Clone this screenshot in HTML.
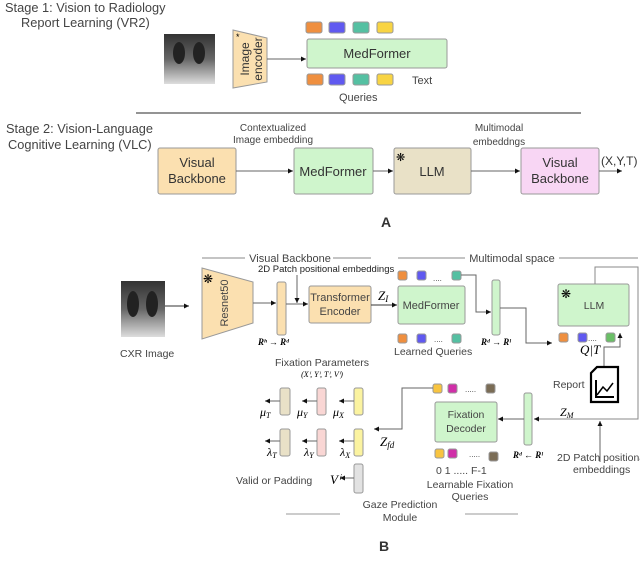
<!DOCTYPE html>
<html><head><meta charset="utf-8"><style>
body{margin:0;background:#fff}
svg{display:block;font-family:"Liberation Sans",sans-serif}
.s{font-family:"Liberation Serif",serif;font-style:italic}
</style></head><body>
<svg width="640" height="563" viewBox="0 0 640 563" xmlns="http://www.w3.org/2000/svg">
<defs>
<marker id="a" markerWidth="6" markerHeight="6" refX="5" refY="3" orient="auto"><path d="M0,0.5 L5,3 L0,5.5z" fill="#111"/></marker>
<linearGradient id="x" x1="0" y1="0" x2="0" y2="1"><stop offset="0" stop-color="#333"/><stop offset="0.5" stop-color="#666"/><stop offset="1" stop-color="#ddd"/></linearGradient>
</defs>
<g font-size="12.8" fill="#444">
<text x="5" y="12">Stage 1: Vision to Radiology</text>
<text x="21" y="27">Report Learning (VR2)</text>
<text x="6" y="133">Stage 2: Vision-Language</text>
<text x="8" y="149">Cognitive Learning (VLC)</text>
</g>
<!-- Stage 1 -->
<rect x="164" y="34" width="51" height="50" fill="url(#x)"/>
<ellipse cx="179" cy="53" rx="6" ry="11" fill="#222"/><ellipse cx="199" cy="53" rx="6" ry="11" fill="#222"/>
<path d="M233,30 L267,38 L267,82 L233,88z" fill="#fbe0b0" stroke="#999"/>
<text transform="translate(245,59) rotate(-90)" text-anchor="middle" font-size="12" fill="#333" dy="4">Image</text>
<text transform="translate(258,59) rotate(-90)" text-anchor="middle" font-size="12" fill="#333" dy="4">encoder</text>
<text x="236" y="40" font-size="9">*</text>
<line x1="267" y1="59" x2="306" y2="59" stroke="#666" marker-end="url(#a)"/>
<rect x="307" y="39" width="140" height="29" rx="2" fill="#cff5cc" stroke="#999"/>
<text x="377" y="58" text-anchor="middle" font-size="13" fill="#333">MedFormer</text>
<g stroke="#999"><rect x="306" y="22" width="16" height="11" rx="2" fill="#ef8f3f"/><rect x="329" y="22" width="16" height="11" rx="2" fill="#6059f0"/><rect x="353" y="22" width="16" height="11" rx="2" fill="#55c0a2"/><rect x="377" y="22" width="16" height="11" rx="2" fill="#f8d443"/>
<rect x="307" y="74" width="16" height="11" rx="2" fill="#ef8f3f"/><rect x="329" y="74" width="16" height="11" rx="2" fill="#6059f0"/><rect x="353" y="74" width="16" height="11" rx="2" fill="#55c0a2"/><rect x="377" y="74" width="16" height="11" rx="2" fill="#f8d443"/></g>
<text x="412" y="84" font-size="11" fill="#444">Text</text>
<text x="339" y="101" font-size="11" fill="#444">Queries</text>
<line x1="136" y1="113" x2="581" y2="113" stroke="#555" stroke-width="1.2"/>
<!-- Stage 2 -->
<g font-size="10" fill="#444" text-anchor="middle"><text x="273" y="131">Contextualized</text><text x="273" y="143">Image embedding</text><text x="499" y="131">Multimodal</text><text x="499" y="145">embeddngs</text></g>
<rect x="158" y="148" width="78" height="46" rx="2" fill="#fbe0b0" stroke="#999"/>
<text x="197" y="167" text-anchor="middle" font-size="13" fill="#333">Visual</text><text x="197" y="183" text-anchor="middle" font-size="13" fill="#333">Backbone</text>
<rect x="294" y="148" width="79" height="46" rx="2" fill="#cff5cc" stroke="#999"/>
<text x="333" y="176" text-anchor="middle" font-size="13" fill="#333">MedFormer</text>
<rect x="394" y="148" width="77" height="46" rx="2" fill="#e9e1c7" stroke="#999"/>
<text x="432" y="176" text-anchor="middle" font-size="13" fill="#333">LLM</text>
<text x="396" y="161" font-size="11">❋</text>
<rect x="521" y="148" width="78" height="46" rx="2" fill="#f8d6f4" stroke="#999"/>
<text x="560" y="167" text-anchor="middle" font-size="13" fill="#333">Visual</text><text x="560" y="183" text-anchor="middle" font-size="13" fill="#333">Backbone</text>
<g stroke="#666" marker-end="url(#a)"><line x1="236" y1="171" x2="293" y2="171"/><line x1="373" y1="171" x2="393" y2="171"/><line x1="471" y1="171" x2="520" y2="171"/><line x1="599" y1="171" x2="622" y2="171"/></g>
<text x="601" y="165" font-size="12" fill="#333">(X,Y,T)</text>
<text x="381" y="227" font-size="14" font-weight="bold" fill="#333">A</text>
<!-- Part B -->
<g stroke="#888"><line x1="202" y1="258" x2="245" y2="258"/><line x1="333" y1="258" x2="371" y2="258"/><line x1="398" y1="258" x2="465" y2="258"/><line x1="559" y1="258" x2="638" y2="258"/></g>
<text x="290" y="262" text-anchor="middle" font-size="11" fill="#444">Visual Backbone</text>
<text x="512" y="262" text-anchor="middle" font-size="11" fill="#444">Multimodal space</text>
<rect x="121" y="281" width="44" height="56" fill="url(#x)"/>
<ellipse cx="133" cy="304" rx="6" ry="13" fill="#222"/><ellipse cx="152" cy="304" rx="6" ry="13" fill="#222"/>
<text x="120" y="357" font-size="10.5" fill="#444">CXR Image</text>
<line x1="165" y1="306" x2="189" y2="306" stroke="#333" marker-end="url(#a)"/>
<path d="M202,268 L253,282 L253,323 L202,339z" fill="#fbe0b0" stroke="#999"/>
<text transform="translate(228,303) rotate(-90)" text-anchor="middle" font-size="11" fill="#444">Resnet50</text>
<text x="203" y="283" font-size="12">❋</text>
<line x1="253" y1="303" x2="276" y2="303" stroke="#666" marker-end="url(#a)"/>
<rect x="277" y="282" width="9" height="53" rx="2" fill="#fbe0b0" stroke="#999"/>
<text x="258" y="345" font-size="9" class="s" font-weight="bold">Rʰ → Rᵈ</text>
<text x="258" y="272" font-size="9.5" fill="#222">2D Patch positional embeddings</text>
<line x1="297" y1="275" x2="297" y2="303" stroke="#666" marker-end="url(#a)"/>
<line x1="286" y1="304" x2="308" y2="304" stroke="#666" marker-end="url(#a)"/>
<rect x="309" y="286" width="62" height="37" rx="2" fill="#fbe0b0" stroke="#999"/>
<text x="340" y="301" text-anchor="middle" font-size="11" fill="#444">Transformer</text><text x="340" y="315" text-anchor="middle" font-size="11" fill="#444">Encoder</text>
<line x1="371" y1="305" x2="397" y2="305" stroke="#333" marker-end="url(#a)"/>
<text x="378" y="300" class="s" font-size="13">Z<tspan font-size="9" dy="2">I</tspan></text>
<rect x="398" y="286" width="67" height="38" rx="2" fill="#cff5cc" stroke="#999"/>
<text x="431" y="309" text-anchor="middle" font-size="11" fill="#444">MedFormer</text>
<g stroke="#999"><rect x="398" y="271" width="9" height="9" rx="2" fill="#ef8f3f"/><rect x="417" y="271" width="9" height="9" rx="2" fill="#6059f0"/><rect x="452" y="271" width="9" height="9" rx="2" fill="#55c0a2"/>
<rect x="398" y="334" width="9" height="9" rx="2" fill="#ef8f3f"/><rect x="417" y="334" width="9" height="9" rx="2" fill="#6059f0"/><rect x="452" y="334" width="9" height="9" rx="2" fill="#55c0a2"/></g>
<text x="433" y="281" font-size="8" fill="#444">....</text><text x="434" y="342" font-size="8" fill="#444">....</text>
<text x="394" y="355" font-size="10.5" fill="#444">Learned Queries</text>
<polyline points="461,275 476,275 476,312 491,312" fill="none" stroke="#666" marker-end="url(#a)"/>
<rect x="492" y="280" width="8" height="55" rx="2" fill="#cff5cc" stroke="#999"/>
<text x="481" y="345" font-size="9" class="s" font-weight="bold">Rᵈ → Rˡ</text>
<polyline points="500,308 526,308 526,343 552,343" fill="none" stroke="#666" marker-end="url(#a)"/>
<rect x="558" y="284" width="71" height="42" rx="2" fill="#cff5cc" stroke="#999"/>
<text x="594" y="309" text-anchor="middle" font-size="10.5" fill="#444">LLM</text>
<text x="561" y="298" font-size="12">❋</text>
<polyline points="595,284 595,267 638,267 638,419 535,419" fill="none" stroke="#888"/>
<g stroke="#999"><rect x="559" y="333" width="9" height="9" rx="2" fill="#ef8f3f"/><rect x="578" y="333" width="9" height="9" rx="2" fill="#6059f0"/><rect x="606" y="333" width="9" height="9" rx="2" fill="#6abf66"/></g>
<text x="588" y="341" font-size="8" fill="#444">....</text>
<text x="580" y="354" class="s" font-size="13">Q|T</text>
<polyline points="604,366 604,347 620,347 620,333" fill="none" stroke="#666" marker-end="url(#a)"/>
<text x="553" y="388" font-size="10.5" fill="#444">Report</text>
<path d="M591,373 L597,367 L618,367 L618,402 L591,402z" fill="#fff" stroke="#000" stroke-width="2.2"/>
<polyline points="596,380 596,397 614,397" fill="none" stroke="#000" stroke-width="2"/><polyline points="597,395 603,387 607,391 613,383" fill="none" stroke="#000" stroke-width="1.5"/>
<text x="560" y="416" class="s" font-size="12">Z<tspan font-size="8" dy="2">M</tspan></text>
<line x1="535" y1="419" x2="534" y2="419" stroke="#666" marker-end="url(#a)"/>
<line x1="600" y1="462" x2="600" y2="421" stroke="#666" marker-end="url(#a)"/>
<text x="557" y="461" font-size="10.5" fill="#444">2D Patch positional</text>
<text x="573" y="473" font-size="10.5" fill="#444">embeddings</text>
<rect x="524" y="393" width="8" height="52" rx="2" fill="#cff5cc" stroke="#999"/>
<text x="513" y="458" font-size="9" class="s" font-weight="bold">Rᵈ ← Rˡ</text>
<line x1="524" y1="419" x2="498" y2="419" stroke="#666" marker-end="url(#a)"/>
<rect x="435" y="402" width="62" height="40" rx="2" fill="#cff5cc" stroke="#999"/>
<text x="466" y="418" text-anchor="middle" font-size="10.5" fill="#444">Fixation</text><text x="466" y="432" text-anchor="middle" font-size="10.5" fill="#444">Decoder</text>
<g stroke="#999"><rect x="433" y="384" width="9" height="9" rx="2" fill="#f8c440"/><rect x="448" y="384" width="9" height="9" rx="2" fill="#d02fa8"/><rect x="486" y="384" width="9" height="9" rx="2" fill="#7a6c55"/>
<rect x="435" y="449" width="9" height="9" rx="2" fill="#f8c440"/><rect x="448" y="449" width="9" height="9" rx="2" fill="#d02fa8"/><rect x="489" y="452" width="9" height="9" rx="2" fill="#7a6c55"/></g>
<text x="465" y="392" font-size="8" fill="#444">.....</text><text x="469" y="457" font-size="8" fill="#444">.....</text>
<text x="436" y="474" font-size="10.5" fill="#444">0  1    ..... F-1</text>
<text x="470" y="488" text-anchor="middle" font-size="10.5" fill="#444">Learnable Fixation</text>
<text x="470" y="500" text-anchor="middle" font-size="10.5" fill="#444">Queries</text>
<polyline points="433,388 402,388 402,429 374,429" fill="none" stroke="#666" marker-end="url(#a)"/>
<text x="380" y="446" class="s" font-size="13">Z<tspan font-size="9" dy="2">fd</tspan></text>
<text x="322" y="366" text-anchor="middle" font-size="10.5" fill="#444">Fixation Parameters</text>
<text x="322" y="377" text-anchor="middle" font-size="8" class="s">(Xⁱ, Yⁱ, Tⁱ, Vⁱ)</text>
<g stroke="#999">
<rect x="280" y="388" width="10" height="27" rx="2" fill="#e9e1c7"/><rect x="317" y="388" width="9" height="27" rx="2" fill="#f9d6d4"/><rect x="354" y="388" width="9" height="27" rx="2" fill="#fbf3a0"/>
<rect x="280" y="429" width="10" height="27" rx="2" fill="#e9e1c7"/><rect x="317" y="429" width="9" height="27" rx="2" fill="#f9d6d4"/><rect x="354" y="429" width="9" height="27" rx="2" fill="#fbf3a0"/>
<rect x="354" y="464" width="9" height="29" rx="2" fill="#e2e2e2"/></g>
<g stroke="#666" marker-end="url(#a)"><line x1="280" y1="401" x2="265" y2="401"/><line x1="317" y1="401" x2="302" y2="401"/><line x1="354" y1="401" x2="339" y2="401"/>
<line x1="280" y1="441" x2="265" y2="441"/><line x1="317" y1="441" x2="302" y2="441"/><line x1="354" y1="441" x2="339" y2="441"/><line x1="354" y1="478" x2="340" y2="478"/></g>
<g class="s" font-size="12"><text x="260" y="416">μ<tspan font-size="8" dy="2">T</tspan></text><text x="297" y="416">μ<tspan font-size="8" dy="2">Y</tspan></text><text x="333" y="416">μ<tspan font-size="8" dy="2">X</tspan></text>
<text x="267" y="456">λ<tspan font-size="8" dy="2">T</tspan></text><text x="304" y="456">λ<tspan font-size="8" dy="2">Y</tspan></text><text x="340" y="456">λ<tspan font-size="8" dy="2">X</tspan></text>
<text x="330" y="484" font-size="13">Vⁱ</text></g>
<text x="236" y="484" font-size="10.5" fill="#444">Valid or Padding</text>
<text x="400" y="508" text-anchor="middle" font-size="10.5" fill="#444">Gaze Prediction</text>
<text x="400" y="521" text-anchor="middle" font-size="10.5" fill="#444">Module</text>
<g stroke="#999"><line x1="286" y1="514" x2="340" y2="514"/><line x1="465" y1="514" x2="518" y2="514"/></g>
<text x="379" y="551" font-size="14" font-weight="bold" fill="#333">B</text>
</svg>
</body></html>
